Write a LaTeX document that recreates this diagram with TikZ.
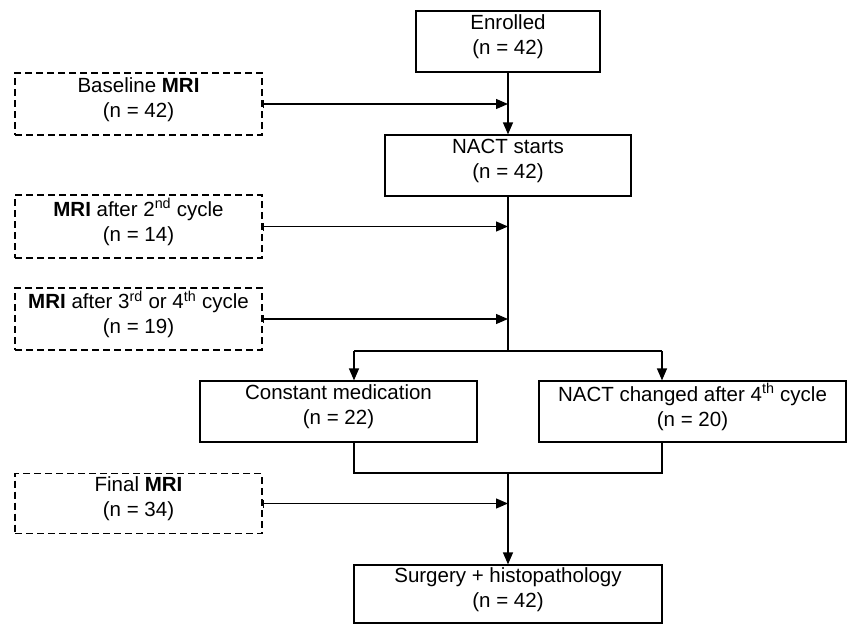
\documentclass[tikz,border=0pt]{standalone}
\usepackage{fontspec}
\setmainfont{Liberation Sans}
\usetikzlibrary{arrows.meta}
\begin{document}
\begin{tikzpicture}[x=1pt,y=-1pt,
  solidbox/.style={draw=black, line width=1.2pt, rectangle, inner sep=0pt},
  dashbox/.style={solidbox, dash pattern=on 7pt off 4pt},
  lbl/.style={font=\fontsize{20.5}{25}\selectfont, align=center, inner sep=0pt, text=black},
  conn/.style={line width=1.25pt, draw=black},
  arr/.style={conn, -{Triangle[length=12pt,width=10pt]}},
  tickarr/.style={conn, {Bar[width=8pt,line width=1.2pt]}-{Triangle[length=12pt,width=10pt]}}
]
\useasboundingbox (0,0) rectangle (847,624);

% boxes
\node[solidbox, minimum width=184pt, minimum height=61pt] (enr) at (508,41.5) {};
\node[dashbox, minimum width=247pt, minimum height=62pt] (base) at (138.5,104) {};
\node[solidbox, minimum width=246pt, minimum height=61pt] (nact) at (508,165.5) {};
\node[dashbox, minimum width=247pt, minimum height=63pt] (mri2) at (138.5,226.5) {};
\node[dashbox, minimum width=247pt, minimum height=62pt] (mri3) at (138.5,319) {};
\node[solidbox, minimum width=277pt, minimum height=61pt] (const) at (338.5,411.5) {};
\node[solidbox, minimum width=307pt, minimum height=61pt] (chg) at (692.5,411.5) {};
\node[dashbox, minimum width=247pt, minimum height=60pt] (fin) at (138.5,503.5) {};
\node[solidbox, minimum width=308pt, minimum height=58pt] (surg) at (508,594) {};

% labels
\node[lbl] (tenr) at ([yshift=4.5pt]enr.center) {Enrolled\\(n = 42)};
\node[lbl] (tbase) at ([yshift=4.5pt]base.center) {Baseline \textbf{MRI}\\(n = 42)};
\node[lbl] (tnact) at ([yshift=4.5pt]nact.center) {NACT starts\\(n = 42)};
\node[lbl] (tmri2) at ([yshift=4.5pt]mri2.center) {\textbf{MRI} after 2\textsuperscript{nd} cycle\\(n = 14)};
\node[lbl] (tmri3) at ([yshift=4.5pt]mri3.center) {\textbf{MRI} after 3\textsuperscript{rd} or 4\textsuperscript{th} cycle\\(n = 19)};
\node[lbl] (tconst) at ([yshift=4.5pt]const.center) {Constant medication\\(n = 22)};
\node[lbl] (tchg) at ([yshift=4.5pt]chg.center) {NACT changed after 4\textsuperscript{th} cycle\\(n = 20)};
\node[lbl] (tfin) at ([yshift=4.5pt]fin.center) {Final \textbf{MRI}\\(n = 34)};
\node[lbl] (tsurg) at ([yshift=4.5pt]surg.center) {Surgery + histopathology\\(n = 42)};

% coordinates
\coordinate (split) at (508,351);
\coordinate (splitL) at (354,351);
\coordinate (splitR) at (662,351);
\coordinate (joinL) at (354,473);
\coordinate (joinR) at (662,473);

% connectors
\draw[arr] (enr.south) -- (nact.north);
\draw[tickarr] (base.east) -- (base.east -| enr.south);
\draw[conn] (nact.south) -- (split);
\draw[tickarr] (mri2.east) -- (mri2.east -| nact.south);
\draw[tickarr] (mri3.east) -- (mri3.east -| nact.south);
\draw[conn] (splitL) -- (splitR);
\draw[arr] (splitL) -- (splitL |- const.north);
\draw[arr] (splitR) -- (splitR |- chg.north);
\draw[conn] (splitL |- const.south) -- (joinL) -- (joinR) -- (splitR |- chg.south);
\draw[arr] (joinL -| surg.north) -- (surg.north);
\draw[tickarr] (fin.east) -- (fin.east -| surg.north);
\end{tikzpicture}
\end{document}
